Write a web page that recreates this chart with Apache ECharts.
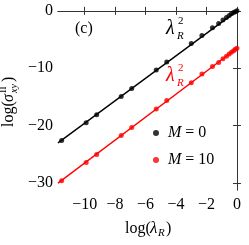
<!DOCTYPE html>
<html>
<head>
<meta charset="utf-8">
<script src="https://cdn.jsdelivr.net/npm/echarts@6/dist/echarts.min.js"></script>
<style>html,body{margin:0;padding:0;background:#fff;}#c{width:249px;height:245px;}</style>
</head>
<body>
<div id="c"></div>
<script>
// log(lambda_R) values of the computed points
const logLambda = [-11.51, -9.90, -9.21, -7.60, -6.91, -5.30, -4.61, -3.00, -2.30, -1.61, -1.20, -0.92, -0.69, -0.51, -0.36, -0.22, -0.11, 0.0];
// log(sigma_xy^II) for M = 0
const sigmaM0 = [-22.6, -19.5, -18.1, -14.9, -13.5, -10.3, -8.9, -5.7, -4.3, -2.95, -2.2, -1.6, -1.15, -0.8, -0.5, -0.3, -0.15, 0.0];
// log(sigma_xy^II) for M = 10
const sigmaM10 = [-29.6, -26.4, -25.0, -21.7, -20.3, -17.1, -15.6, -12.5, -11.0, -9.7, -9.0, -8.35, -7.9, -7.5, -7.2, -6.95, -6.7, -6.5];
// lambda^2 guide lines (endpoints)
const fitX = [-11.75, 0.0];
const fitM0 = [-23.0, 0.0];
const fitM10 = [-30.0, -6.5];
// ticks
const xTicks = [-10, -8, -6, -4, -2, 0];
const yTicks = [-30, -20, -10, 0];

const FONT = 'Liberation Serif';
const pairs = (xs, ys) => xs.map((x, i) => [x, ys[i]]);
const fmt = v => String(v).replace('-', '\u2212');

const chart = echarts.init(document.getElementById('c'), null, {renderer: 'canvas'});
const axisLine = {show: true, lineStyle: {color: '#333', width: 1}};
const tick = vals => ({show: true, inside: true, length: 4, lineStyle: {color: '#333'}, customValues: vals});
const T = (x, y, text, size, color, italic) => ({type: 'text', x, y, style: {text, fontFamily: FONT, fontSize: size, fontStyle: italic ? 'italic' : 'normal', fill: color, verticalAlign: 'middle'}});
const lbl = {customValues: null, formatter: fmt, fontFamily: FONT, fontSize: 16, fontWeight: 'normal', color: '#000'};

chart.setOption({
  animation: false,
  textStyle: {fontFamily: FONT, fontSize: 16},
  grid: {left: 58, top: 8, right: 9, bottom: 55, containLabel: false},
  xAxis: [
    {type: 'value', min: -11.75, max: 0.2, position: 'bottom', axisLine, axisTick: tick(xTicks),
     splitLine: {show: false},
     axisLabel: Object.assign({}, lbl, {customValues: xTicks, margin: 7})},
    {type: 'value', min: -11.75, max: 0.2, position: 'top', axisLine, axisTick: tick(xTicks),
     splitLine: {show: false}, axisLabel: {show: false}}
  ],
  yAxis: [
    {type: 'value', min: -31.2, max: 0.5, position: 'left', axisLine, axisTick: tick(yTicks),
     splitLine: {show: false},
     axisLabel: Object.assign({}, lbl, {customValues: yTicks, margin: 5})},
    {type: 'value', min: -31.2, max: 0.5, position: 'right', axisLine, axisTick: tick(yTicks),
     splitLine: {show: false}, axisLabel: {show: false}}
  ],
  legend: {
    orient: 'vertical', left: 153, top: 125, padding: 0, itemGap: 11,
    itemWidth: 6, itemHeight: 6, icon: 'circle',
    data: ['M0', 'M10'],
    formatter: n => n === 'M0' ? '{i|M}{n| = 0}' : '{i|M}{n| = 10}',
    textStyle: {fontFamily: FONT, fontSize: 16, color: '#000', padding: [0, 0, 0, 4],
      rich: {i: {fontFamily: FONT, fontSize: 16, fontStyle: 'italic', color: '#000'},
             n: {fontFamily: FONT, fontSize: 16, color: '#000'}}}
  },
  series: [
    {type: 'line', data: pairs(fitX, fitM0), symbol: 'none', lineStyle: {color: '#000', width: 1.4}, silent: true, z: 2},
    {type: 'line', data: pairs(fitX, fitM10), symbol: 'none', lineStyle: {color: '#ff0000', width: 1.4}, silent: true, z: 2},
    {name: 'M0', type: 'scatter', data: pairs(logLambda, sigmaM0), symbolSize: 5, itemStyle: {color: '#000'}, z: 3},
    {name: 'M10', type: 'scatter', data: pairs(logLambda, sigmaM10), symbolSize: 5, itemStyle: {color: '#ff0000'}, z: 3}
  ],
  graphic: [
    T(75, 29, '(c)', 16, '#000', false),
    // black lambda_R^2
    T(166, 29, '\u03bb', 20, '#000', true),
    T(178, 21, '2', 11, '#000', false),
    T(177, 36, 'R', 11, '#000', true),
    // red lambda_R^2
    T(166, 76, '\u03bb', 20, '#ff0000', true),
    T(178, 68, '2', 11, '#ff0000', false),
    T(177, 83, 'R', 11, '#ff0000', true),
    // x axis title: log(lambda_R)
    {type: 'group', x: 125, y: 229, children: [
      T(0, 0, 'log(', 16, '#000', false),
      T(25, 0, '\u03bb', 17, '#000', true),
      T(33, 4, 'R', 11, '#000', true),
      T(41, 0, ')', 16, '#000', false)
    ]},
    // y axis title: log(sigma_xy^II), rotated
    {type: 'group', x: 9, y: 127, rotation: Math.PI / 2, children: [
      T(0, 0, 'log(', 16, '#000', false),
      T(25, 0, '\u03c3', 16, '#000', true),
      T(34, -6, 'II', 10, '#000', false),
      T(34, 5, 'xy', 10, '#000', true),
      T(45, 0, ')', 16, '#000', false)
    ]}
  ]
});
</script>
</body>
</html>
